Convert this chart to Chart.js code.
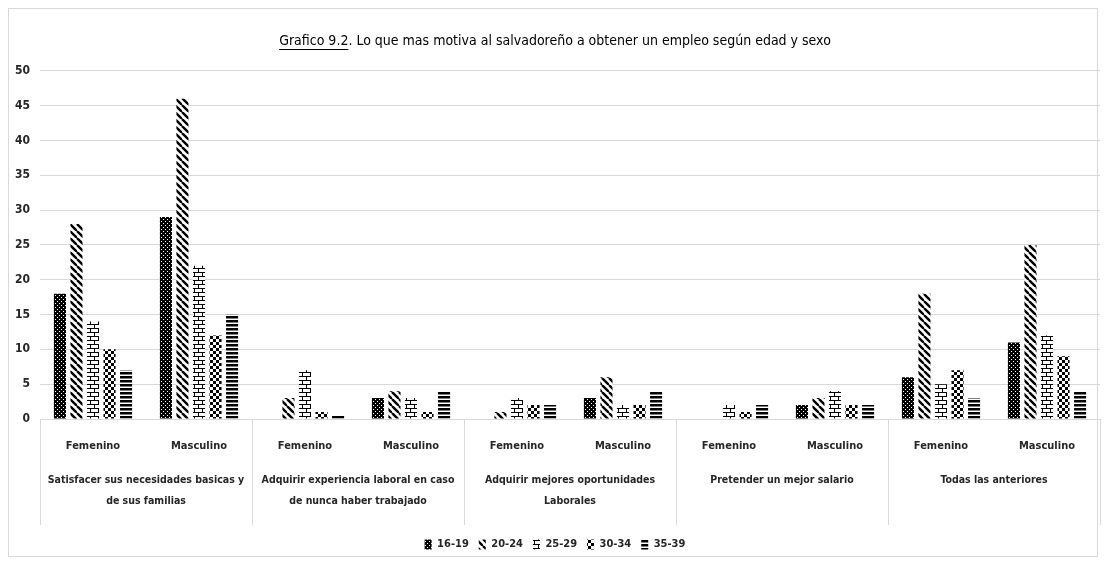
<!DOCTYPE html>
<html>
<head>
<meta charset="utf-8">
<script src="https://cdn.jsdelivr.net/npm/chart.js@4/dist/chart.umd.min.js"></script>
<style>
  html, body { margin: 0; padding: 0; background: #ffffff; }
  #wrap { width: 1106px; height: 565px; position: relative; }
</style>
</head>
<body>
<div id="wrap"><canvas id="c"></canvas></div>
<script>
// ---- data ----
const groups = [
  ["Satisfacer sus necesidades basicas y", "de sus familias"],
  ["Adquirir experiencia laboral en caso", "de nunca haber trabajado"],
  ["Adquirir mejores oportunidades", "Laborales"],
  ["Pretender un mejor salario"],
  ["Todas las anteriores"]
];
const sexes = ["Femenino", "Masculino"];
const seriesNames = ["16-19", "20-24", "25-29", "30-34", "35-39"];
const v1619 = [18, 29, 0, 3, 0, 3, 0, 2, 6, 11];
const v2024 = [28, 46, 3, 4, 1, 6, 0, 3, 18, 25];
const v2529 = [14, 22, 7, 3, 3, 2, 2, 4, 5, 12];
const v3034 = [10, 12, 1, 1, 2, 2, 1, 2, 7, 9];
const v3539 = [7, 15, 0.5, 4, 2, 4, 2, 2, 3, 4];
const yTicks = [0, 5, 10, 15, 20, 25, 30, 35, 40, 45, 50];
const titleText = "Grafico 9.2. Lo que mas motiva al salvadoreño a obtener un empleo según edad y sexo";
const titleUnderlined = "Grafico 9.2";

// ---- patterns ----
function mkPattern(w, h, draw) {
  const cv = document.createElement('canvas');
  cv.width = w; cv.height = h;
  const g = cv.getContext('2d');
  draw(g, w, h);
  return g.createPattern(cv, 'repeat');
}
const pDots = mkPattern(4, 4, (g) => {
  g.fillStyle = '#000'; g.fillRect(0, 0, 4, 4);
  g.fillStyle = '#fff'; g.fillRect(1, 1, 1, 1); g.fillRect(3, 3, 1, 1);
});
const pDiag = mkPattern(7, 7, (g, w, h) => {
  g.fillStyle = '#fff'; g.fillRect(0, 0, w, h);
  g.strokeStyle = '#000'; g.lineWidth = 2.4;
  for (let k = -1; k <= 1; k++) {
    g.beginPath(); g.moveTo(k * w, 0); g.lineTo(k * w + w, h); g.stroke();
  }
});
const pBrick = mkPattern(8, 8, (g) => {
  g.fillStyle = '#fff'; g.fillRect(0, 0, 8, 8);
  g.fillStyle = '#000';
  g.fillRect(0, 0, 8, 1); g.fillRect(0, 4, 8, 1);
  g.fillRect(2, 0, 1, 4); g.fillRect(6, 4, 1, 4);
});
const pCheck = mkPattern(6, 6, (g) => {
  g.fillStyle = '#fff'; g.fillRect(0, 0, 6, 6);
  g.fillStyle = '#000'; g.fillRect(0, 0, 3, 3); g.fillRect(3, 3, 3, 3);
});
const pHoriz = mkPattern(4, 4, (g) => {
  g.fillStyle = '#fff'; g.fillRect(0, 0, 4, 4);
  g.fillStyle = '#000'; g.fillRect(0, 0, 4, 2.5);
});
const fills = [pDots, pDiag, pBrick, pCheck, pHoriz];
const values = [v1619, v2024, v2529, v3034, v3539];

const labels = [];
groups.forEach(() => sexes.forEach(s => labels.push(s)));

const FONT = "'DejaVu Sans Condensed', 'Liberation Sans Narrow', sans-serif";
const TITLE_SIZE = 14;
const TITLE_WEIGHT = 'normal';

// ---- plugins ----
const frame = {
  id: 'frame',
  beforeDraw(chart) {
    const ctx = chart.ctx;
    ctx.save();
    ctx.fillStyle = '#fff';
    ctx.fillRect(0, 0, chart.width, chart.height);
    ctx.strokeStyle = '#d9d9d9'; ctx.lineWidth = 1;
    ctx.strokeRect(8.5, 8.5, chart.width - 17, chart.height - 17);
    ctx.restore();
  }
};
const dividers = {
  id: 'dividers',
  afterDraw(chart) {
    const x = chart.scales.x, x2 = chart.scales.x2;
    const ctx = chart.ctx;
    ctx.save();
    ctx.strokeStyle = '#d9d9d9'; ctx.lineWidth = 1;
    const n = labels.length;
    for (let i = 0; i <= n; i += 2) {
      let px;
      if (i === 0) px = x.left;
      else if (i === n) px = x.right;
      else px = (x.getPixelForValue(i - 1) + x.getPixelForValue(i)) / 2;
      px = Math.round(px) + 0.5;
      ctx.beginPath(); ctx.moveTo(px, x.top); ctx.lineTo(px, x2.bottom - 4); ctx.stroke();
    }
    // title underline
    const tb = chart.titleBlock;
    ctx.font = TITLE_WEIGHT + " " + TITLE_SIZE + "px " + FONT;
    const full = ctx.measureText(titleText).width;
    const part = ctx.measureText(titleUnderlined).width;
    const cx = (tb.left + tb.right) / 2;
    const startX = cx - full / 2;
    const y = tb.top + tb.options.padding.top + TITLE_SIZE * 1.2 - 1;
    ctx.strokeStyle = '#000'; ctx.lineWidth = 1;
    ctx.beginPath(); ctx.moveTo(startX, Math.round(y) + 0.5); ctx.lineTo(startX + part, Math.round(y) + 0.5); ctx.stroke();
    ctx.restore();
  }
};

new Chart(document.getElementById('c'), {
  type: 'bar',
  data: {
    labels: labels,
    datasets: seriesNames.map((n, i) => ({
      label: n,
      data: values[i],
      backgroundColor: fills[i],
      borderWidth: 0,
      categoryPercentage: 0.78,
      barPercentage: 0.73
    }))
  },
  plugins: [frame, dividers],
  options: {
    responsive: true,
    maintainAspectRatio: false,
    animation: false,
    layout: { padding: { left: 10, right: 6, top: 10, bottom: 5 } },
    plugins: {
      title: {
        display: true,
        text: titleText,
        color: '#000',
        font: { family: FONT, size: TITLE_SIZE, weight: TITLE_WEIGHT, lineHeight: 1.2 },
        padding: { top: 23, bottom: 21 }
      },
      legend: {
        position: 'bottom',
        labels: {
          boxWidth: 7, boxHeight: 10,
          color: '#262626',
          font: { family: FONT, size: 11, weight: 'bold' },
          padding: 10
        }
      },
      tooltip: { enabled: false }
    },
    scales: {
      y: {
        min: 0, max: 50,
        afterBuildTicks(s) { s.ticks = yTicks.map(v => ({ value: v })); },
        afterFit(s) { s.width = 30; },
        border: { display: false },
        grid: { color: '#d9d9d9', drawTicks: false },
        ticks: { color: '#262626', padding: 10, font: { family: FONT, size: 12, weight: 'bold' } }
      },
      x: {
        position: 'bottom',
        border: { display: true, color: '#d9d9d9' },
        grid: { display: false },
        afterFit(s) { s.height = 40; },
        ticks: { color: '#262626', padding: 13, maxRotation: 0, autoSkip: false,
                 font: { family: FONT, size: 11, weight: 'bold' } }
      },
      x2: {
        type: 'category',
        position: 'bottom',
        labels: groups,
        offset: true,
        border: { display: false },
        grid: { display: false },
        afterFit(s) { s.height = 70; },
        ticks: { color: '#262626', padding: 3, maxRotation: 0, autoSkip: false,
                 font: { family: FONT, size: 10.5, weight: 'bold', lineHeight: 2 } }
      }
    }
  }
});
</script>
</body>
</html>
